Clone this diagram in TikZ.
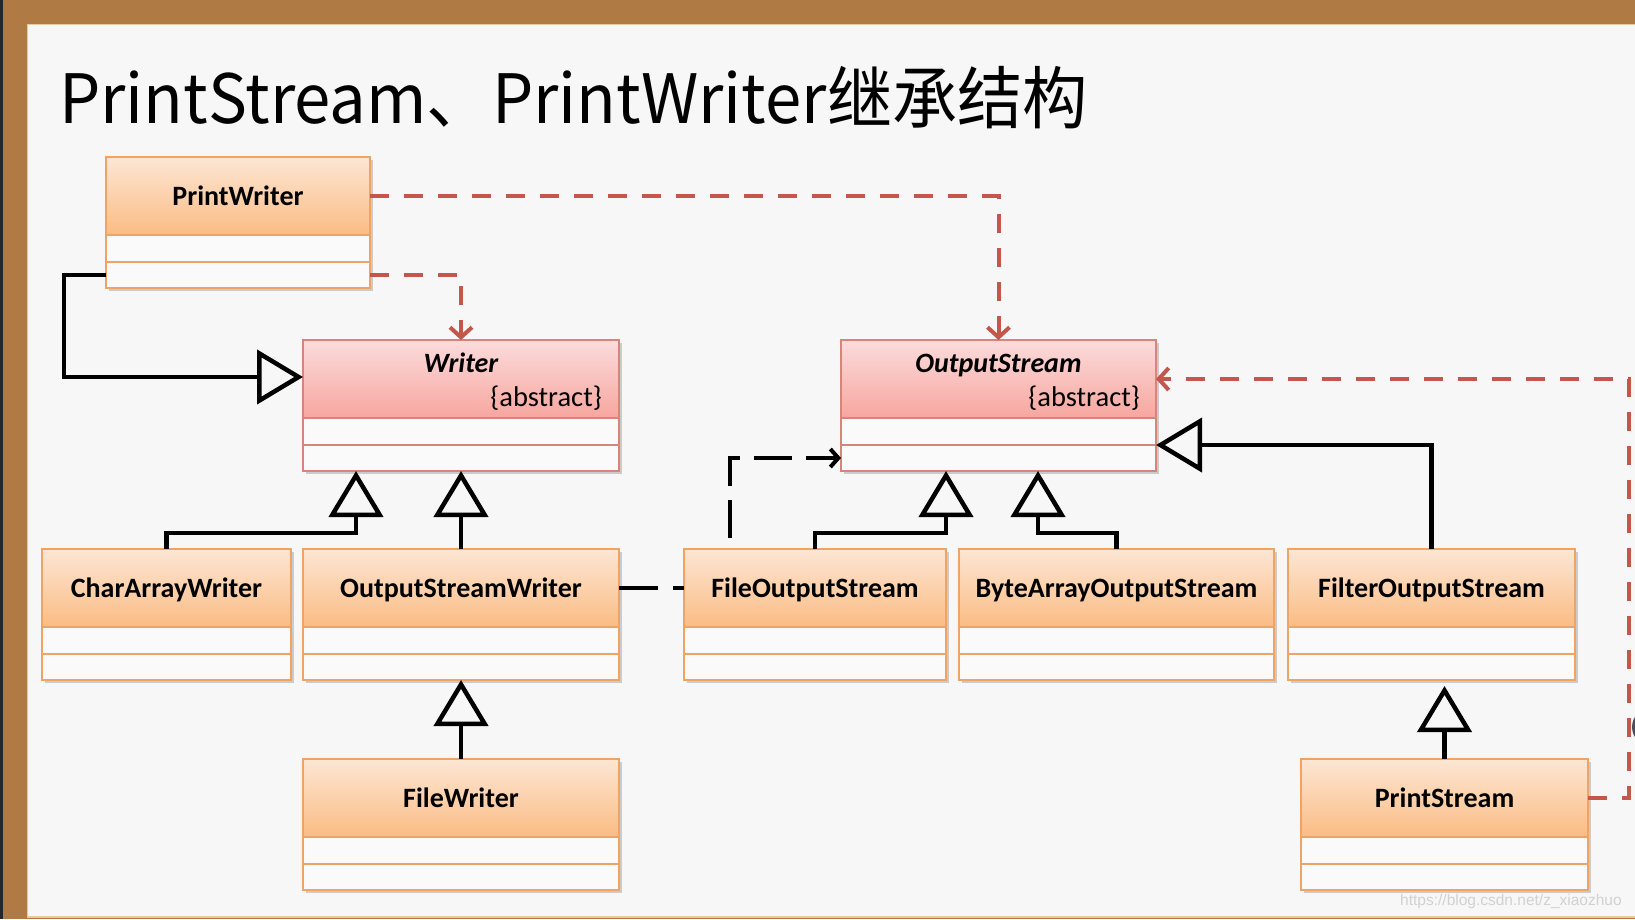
\documentclass[tikz,border=0pt]{standalone}
\usepackage{fontspec}
\setmainfont{Carlito}
\newfontfamily\titlefont{Noto Sans CJK SC}
\newfontfamily\wmfont{Liberation Sans}
\usetikzlibrary{arrows.meta,calc,shadows}
\definecolor{wood}{HTML}{B07A44}
\definecolor{woodlight}{HTML}{E9C9A0}
\definecolor{bg}{HTML}{F7F7F7}
\definecolor{ortop}{HTML}{FCE6D4}
\definecolor{orbot}{HTML}{FBBC84}
\definecolor{orline}{HTML}{F0A464}
\definecolor{pktop}{HTML}{FBDCDC}
\definecolor{pkbot}{HTML}{F7A69E}
\definecolor{pkline}{HTML}{D7857B}
\definecolor{rowfill}{HTML}{FAFAFA}
\definecolor{depred}{HTML}{C4574B}
\definecolor{cursor}{HTML}{4B4F5C}
\tikzset{
  classbox/.style={draw=#1line, fill=rowfill, line width=1.3pt, inner sep=0pt, outer sep=0pt,
    drop shadow={shadow xshift=2.5pt, shadow yshift=-3pt, opacity=0.3, fill=black!60}},
  lbl/.style={anchor=base, inner sep=0pt, font=\bfseries\fontsize{28}{30}\selectfont},
  ilbl/.style={anchor=base, inner sep=0pt, font=\bfseries\itshape\fontsize{28}{30}\selectfont},
  abs/.style={anchor=base east, inner sep=0pt, font=\fontsize{28.5}{30}\selectfont},
  inh/.style={draw=black, line width=4.5pt, -{Triangle[length=46pt, width=54pt, fill=bg]}},
  reddep/.style={draw=depred, line width=4pt, dash pattern=on 19pt off 15pt,
    -{Straight Barb[length=10pt, width=22pt]}},
  dep/.style={draw=black, line width=4pt, dash pattern=on 38pt off 14pt,
    -{Straight Barb[length=8pt, width=18pt]}},
  assoc/.style={draw=black, line width=4.5pt, dash pattern=on 39pt off 15pt},
}
% name, left, top, right, kind
\newcommand\umlclass[5]{%
  \node[classbox=#5, anchor=north west, minimum width={#4-#2}, minimum height=131] (#1) at (#2,#3) {};
  \fill[top color=#5top, bottom color=#5bot] (#2,#3) rectangle (#4,#3+78);
  \draw[#5line, line width=1.3pt] (#2,#3+78) -- (#4,#3+78) (#2,#3+105) -- (#4,#3+105);
  \draw[#5line, line width=1.3pt] (#1.north west) rectangle (#1.south east);
}
\begin{document}
\begin{tikzpicture}[x=1pt,y=-1pt]
\useasboundingbox (0,0) rectangle (1635,919);
% frame
\fill[wood] (0,0) rectangle (1635,919);
\fill[black!85] (0,0) rectangle (3,919);
\fill[woodlight] (26.5,23.5) rectangle (1635,917.5);
\fill[bg] (28,25) rectangle (1635,916);

% title
\node[anchor=base west, inner sep=0pt, font=\titlefont\fontsize{68}{70}\selectfont] (title) at (59,123) {\scalebox{0.96}[1]{PrintStream、PrintWriter继承结构}};

% classes
\umlclass{pw}{106}{157}{370}{or}
\umlclass{wr}{303}{340}{619}{pk}
\umlclass{os}{841}{340}{1156}{pk}
\umlclass{caw}{42}{549}{291}{or}
\umlclass{osw}{303}{549}{619}{or}
\umlclass{fos}{684}{549}{946}{or}
\umlclass{baos}{959}{549}{1274}{or}
\umlclass{fil}{1288}{549}{1575}{or}
\umlclass{fw}{303}{759}{619}{or}
\umlclass{ps}{1301}{759}{1588}{or}

% labels
\node[lbl] (pw-t) at ($(pw.north)+(0,48)$) {PrintWriter};
\node[ilbl] (wr-t) at ($(wr.north)+(0,32)$) {Writer};
\node[abs] (wr-a) at ($(wr.north east)+(-17,66)$) {\{abstract\}};
\node[ilbl] (os-t) at ($(os.north)+(0,32)$) {OutputStream};
\node[abs] (os-a) at ($(os.north east)+(-16,66)$) {\{abstract\}};
\node[lbl] (caw-t) at ($(caw.north)+(0,48)$) {CharArrayWriter};
\node[lbl] (osw-t) at ($(osw.north)+(0,48)$) {OutputStreamWriter};
\node[lbl] (fos-t) at ($(fos.north)+(0,48)$) {FileOutputStream};
\node[lbl] (baos-t) at ($(baos.north)+(0,48)$) {ByteArrayOutputStream};
\node[lbl] (fil-t) at ($(fil.north)+(0,48)$) {FilterOutputStream};
\node[lbl] (fw-t) at ($(fw.north)+(0,48)$) {FileWriter};
\node[lbl] (ps-t) at ($(ps.north)+(0,48)$) {PrintStream};

% connectors
\draw[reddep] ($(pw.north east)+(0,39)$) -| (os.north);
\draw[reddep] ($(pw.south east)+(0,-13)$) -| (wr.north);
\draw[inh] ($(pw.south west)+(0,-13)$) -- ++(-42,0) |- ($(wr.north west)+(0,37)$);
\draw[inh] (caw.north) -- ++(0,-16) -| ($(wr.south west)+(53,0)$);
\draw[inh] (osw.north) -- (wr.south);
\draw[inh] (fw.north) -- (osw.south);
\draw[assoc] ($(osw.north east)+(0,39)$) -- ($(fos.north west)+(0,39)$);
\draw[dep] ($(fos.north west)+(46,-11)$) |- ($(os.south west)+(0,-13)$);
\draw[inh] (fos.north) -- ++(0,-16) -| ($(os.south west)+(105,0)$);
\draw[inh] (baos.north) -- ++(0,-16) -| ($(os.south west)+(197,0)$);
\draw[inh] (fil.north) |- ($(os.south east)+(0,-26)$);
\draw[inh, shorten >=6pt] (ps.north) -- (ps.north |- fil.south);
\draw[reddep] ($(ps.north east)+(0,39)$) -- ++(41,0) |- ($(os.north east)+(0,39)$);

% cursor fragment at right edge
\fill[cursor] (1651,727) circle (19);

% watermark
\node[anchor=base west, inner sep=0pt, font=\wmfont\fontsize{15.5}{16}\selectfont, text=black!18] (wm) at (1400,905) {https://blog.csdn.net/z\_xiaozhuo};
\end{tikzpicture}
\end{document}
